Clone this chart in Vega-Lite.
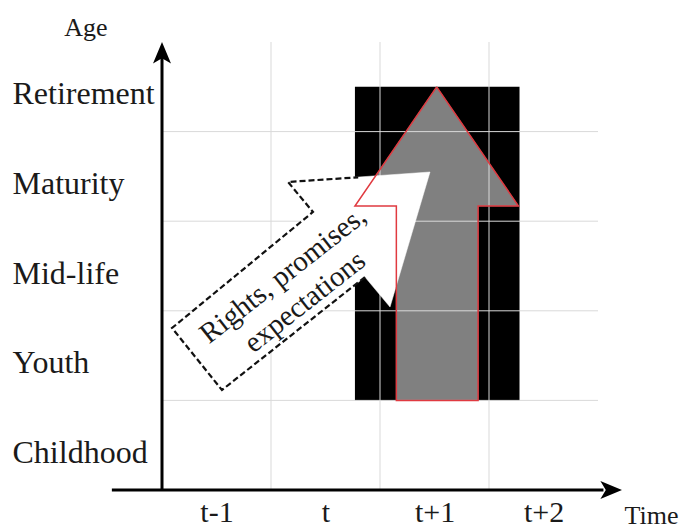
{
  "$schema": "https://vega.github.io/schema/vega-lite/v6.json",
  "width": 436,
  "height": 448,
  "autosize": {"type": "none"},
  "padding": {"left": 162, "top": 42, "right": 85, "bottom": 40},
  "background": "white",
  "config": {"view": {"stroke": null}},
  "datasets": {
    "rect": [{"x": 1.77, "x2": 3.28, "y": 1.0, "y2": 4.5}],
    "big": [
      {"order": 0, "x": 2.52, "y": 4.5},
      {"order": 1, "x": 3.27, "y": 3.17},
      {"order": 2, "x": 2.9, "y": 3.17},
      {"order": 3, "x": 2.9, "y": 1.0},
      {"order": 4, "x": 2.15, "y": 1.0},
      {"order": 5, "x": 2.15, "y": 3.17},
      {"order": 6, "x": 1.77, "y": 3.17},
      {"order": 7, "x": 2.52, "y": 4.5}
    ],
    "white": [
      {"order": 0, "x": 2.459, "y": 3.549},
      {"order": 1, "x": 2.092, "y": 2.042},
      {"order": 2, "x": 1.862, "y": 2.377},
      {"order": 3, "x": 0.55, "y": 1.116},
      {"order": 4, "x": 0.092, "y": 1.808},
      {"order": 5, "x": 1.385, "y": 3.103},
      {"order": 6, "x": 1.156, "y": 3.438},
      {"order": 7, "x": 2.459, "y": 3.549}
    ],
    "dashed": [
      {"order": 0, "x": 1.862, "y": 2.377},
      {"order": 1, "x": 0.55, "y": 1.116},
      {"order": 2, "x": 0.092, "y": 1.808},
      {"order": 3, "x": 1.385, "y": 3.103},
      {"order": 4, "x": 1.156, "y": 3.438},
      {"order": 5, "x": 1.8, "y": 3.49}
    ],
    "grid": [
      {"x": 1, "x2": 1, "y": 0, "y2": 5},
      {"x": 2, "x2": 2, "y": 0, "y2": 5},
      {"x": 3, "x2": 3, "y": 0, "y2": 5},
      {"x": 0, "x2": 4, "y": 1, "y2": 1},
      {"x": 0, "x2": 4, "y": 2, "y2": 2},
      {"x": 0, "x2": 4, "y": 3, "y2": 3},
      {"x": 0, "x2": 4, "y": 4, "y2": 4}
    ],
    "axes": [
      {"x": -0.46, "x2": 4.05, "y": 0, "y2": 0},
      {"x": 0, "x2": 0, "y": 0, "y2": 4.85}
    ],
    "heads": [
      {"x": 0, "y": 4.866, "dir": "up"},
      {"x": 4.11, "y": 0, "dir": "right"}
    ],
    "words": [
      {"x": 1.11, "y": 2.4, "text": "Rights, promises,"},
      {"x": 1.31, "y": 2.1, "text": "expectations"}
    ]
  },
  "layer": [
    {
      "data": {"name": "rect"},
      "mark": {"type": "rect", "color": "#000000"},
      "encoding": {
        "x": {"field": "x", "type": "quantitative", "scale": {"domain": [0, 4], "nice": false, "zero": false},
          "axis": {"values": [0.5, 1.5, 2.5, 3.5], "labelExpr": "['t-1','t','t+1','t+2'][floor(datum.value)]",
            "domain": false, "ticks": false, "tickSize": 0, "grid": false, "labelFont": "Liberation Serif", "labelFontSize": 30,
            "labelColor": "#1a1a1a", "labelBaseline": "alphabetic", "labelPadding": 31, "labelAngle": 0,
            "title": "Time", "titleFont": "Liberation Serif", "titleFontSize": 26, "titleFontWeight": "normal", "titleColor": "#1a1a1a",
            "titleX": 489, "titleY": 33, "titleAlign": "center", "titleBaseline": "alphabetic", "labelFlush": false, "labelOverlap": false}},
        "x2": {"field": "x2"},
        "y": {"field": "y", "type": "quantitative", "scale": {"domain": [0, 5], "nice": false, "zero": false},
          "axis": {"values": [0.5, 1.5, 2.5, 3.5, 4.5], "labelExpr": "['Childhood','Youth','Mid-life','Maturity','Retirement'][floor(datum.value)]",
            "domain": false, "ticks": false, "tickSize": 0, "grid": false, "labelFont": "Liberation Serif", "labelFontSize": 32,
            "labelColor": "#1a1a1a", "labelAlign": "left", "labelBaseline": "alphabetic", "labelPadding": 150, "labelOffset": 17,
            "title": "Age", "titleFont": "Liberation Serif", "titleFontSize": 26, "titleFontWeight": "normal", "titleColor": "#1a1a1a",
            "titleAngle": 0, "titleX": -76.5, "titleY": -7, "titleAlign": "center", "titleBaseline": "alphabetic", "labelFlush": false, "labelOverlap": false}},
        "y2": {"field": "y2"}
      }
    },
    {
      "data": {"name": "big"},
      "mark": {"type": "line", "fill": "#808080", "stroke": "#808080", "strokeWidth": 0.5, "interpolate": "linear"},
      "encoding": {
        "x": {"field": "x", "type": "quantitative"},
        "y": {"field": "y", "type": "quantitative"},
        "order": {"field": "order", "type": "quantitative"}
      }
    },
    {
      "data": {"name": "grid"},
      "mark": {"type": "rule", "color": "#d9d9d9", "strokeWidth": 1},
      "encoding": {
        "x": {"field": "x", "type": "quantitative"},
        "x2": {"field": "x2"},
        "y": {"field": "y", "type": "quantitative"},
        "y2": {"field": "y2"}
      }
    },
    {
      "data": {"name": "white"},
      "mark": {"type": "line", "fill": "#ffffff", "stroke": "#ffffff", "strokeWidth": 0.5},
      "encoding": {
        "x": {"field": "x", "type": "quantitative"},
        "y": {"field": "y", "type": "quantitative"},
        "order": {"field": "order", "type": "quantitative"}
      }
    },
    {
      "data": {"name": "big"},
      "mark": {"type": "line", "stroke": "#e03a40", "strokeWidth": 1.5},
      "encoding": {
        "x": {"field": "x", "type": "quantitative"},
        "y": {"field": "y", "type": "quantitative"},
        "order": {"field": "order", "type": "quantitative"}
      }
    },
    {
      "data": {"name": "dashed"},
      "mark": {"type": "line", "stroke": "#111111", "strokeWidth": 2.2, "strokeDash": [6, 3]},
      "encoding": {
        "x": {"field": "x", "type": "quantitative"},
        "y": {"field": "y", "type": "quantitative"},
        "order": {"field": "order", "type": "quantitative"}
      }
    },
    {
      "data": {"name": "words"},
      "mark": {"type": "text", "font": "Liberation Serif", "fontSize": 29, "angle": 321.8, "align": "center", "baseline": "middle", "color": "#1a1a1a"},
      "encoding": {
        "x": {"field": "x", "type": "quantitative"},
        "y": {"field": "y", "type": "quantitative"},
        "text": {"field": "text"}
      }
    },
    {
      "data": {"name": "axes"},
      "mark": {"type": "rule", "color": "#000000", "strokeWidth": 3},
      "encoding": {
        "x": {"field": "x", "type": "quantitative"},
        "x2": {"field": "x2"},
        "y": {"field": "y", "type": "quantitative"},
        "y2": {"field": "y2"}
      }
    },
    {
      "data": {"name": "heads"},
      "mark": {"type": "point", "filled": true, "color": "#000000", "opacity": 1, "size": 576, "strokeWidth": 0},
      "encoding": {
        "x": {"field": "x", "type": "quantitative"},
        "y": {"field": "y", "type": "quantitative"},
        "shape": {"field": "dir", "type": "nominal", "legend": null,
          "scale": {"domain": ["up", "right"], "range": ["M0,-1L0.75,0.8L0,0.35L-0.75,0.8Z", "M1,0L-0.8,0.75L-0.35,0L-0.8,-0.75Z"]}}
      }
    }
  ]
}
